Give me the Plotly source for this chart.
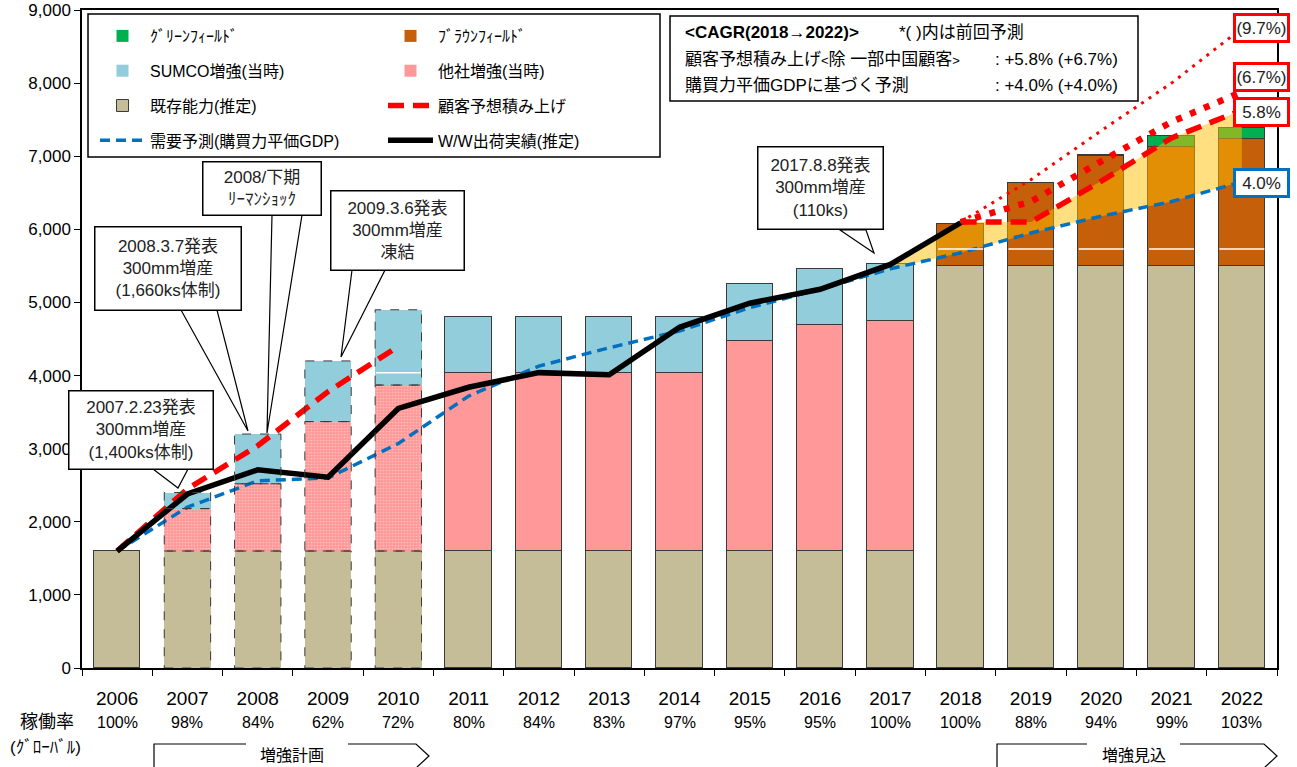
import plotly.graph_objects as go

# ---------------- data ----------------
years = [2006, 2007, 2008, 2009, 2010, 2011, 2012, 2013, 2014, 2015, 2016, 2017, 2018, 2019, 2020, 2021, 2022]
year_labels = ["2006", "2007", "2008", "2009", "2010", "2011", "2012", "2013", "2014", "2015", "2016",
               "2017", "2018", "2019", "2020", "2021", "2022"]
utilization = ["100%", "98%", "84%", "62%", "72%", "80%", "84%", "83%", "97%", "95%", "95%",
               "100%", "100%", "88%", "94%", "99%", "103%"]

existing_capacity = [1600, 1600, 1600, 1600, 1600, 1600, 1600, 1600, 1600, 1600, 1600, 1600,
                     5500, 5500, 5500, 5500, 5500]
others_increase = [0, 580, 920, 1770, 2270, 2430, 2430, 2430, 2430, 2870, 3090, 3150, 0, 0, 0, 0, 0]
sumco_increase = [0, 220, 680, 830, 1030, 770, 770, 770, 770, 780, 770, 770, 0, 0, 0, 0, 0]
brownfield = [0, 0, 0, 0, 0, 0, 0, 0, 0, 0, 0, 0, 570, 1130, 1500, 1620, 1740]
greenfield = [0, 0, 0, 0, 0, 0, 0, 0, 0, 0, 0, 0, 0, 0, 20, 150, 150]

ww_shipments = [1600, 2380, 2710, 2610, 3550, 3840, 4040, 4010, 4660, 4990, 5180, 5520, 6090,
                None, None, None, None]
customer_forecast = [1600, 2450, 3040, 3780, 4400, None, None, None, None, None, None, None,
                     6100, 6100, 6660, 7250, 7630]
gdp_forecast = [1600, 2200, 2560, 2600, 3070, 3720, 4130, 4380, 4610, 4930, 5180, 5460,
                5680, 5950, 6180, 6380, 6650]

prev_years = [2018, 2019, 2020, 2021, 2022]
prev_customer_forecast = [6100, 6380, 6930, 7470, 7880]   # (6.7%)
prev_high_forecast = [6100, 6680, 7350, 8000, 8750]       # (9.7%)

plan_years = [2007, 2008, 2009, 2010]
divider_years = [2010, 2018, 2019, 2020, 2021, 2022]
divider_values = [4040, 5730, 5730, 5730, 5730, 5730]

fill_years = [2017, 2018, 2019, 2020, 2021, 2022]

# ---------------- style ----------------
SANS = "'Liberation Sans', Arial, 'Noto Sans CJK JP', sans-serif"
C_GREEN = "#00B050"
C_BROWN = "#C65F0A"
C_SUMCO = "#92CDDC"
C_PINK = "#FF9999"
C_BEIGE = "#C4BD97"
C_RED = "#FF0000"
C_BLUE = "#0070C0"
EDGE = "#3A3A3A"
BAR_W = 0.66

W, H = 1297, 767
ML, MR, MT, MB = 82, 20, 10, 99
PW, PH = W - ML - MR, H - MT - MB


def px(x):
    return (x - ML) / PW


def py(y):
    return (H - MB - y) / PH


def edge_widths(vals):
    return [0 if (v == 0 or y in plan_years) else 1 for y, v in zip(years, vals)]


fig = go.Figure()

bar_specs = [
    ("既存能力(推定)", existing_capacity, C_BEIGE, "legend", 3),
    ("他社増強(当時)", others_increase, C_PINK, "legend2", 2),
    ("SUMCO増強(当時)", sumco_increase, C_SUMCO, "legend", 2),
    ("ﾌﾞﾗｳﾝﾌｨｰﾙﾄﾞ", brownfield, C_BROWN, "legend2", 1),
    ("ｸﾞﾘｰﾝﾌｨｰﾙﾄﾞ", greenfield, C_GREEN, "legend", 1),
]
for name, vals, col, leg, rank in bar_specs:
    marker = dict(color=col, line=dict(color=EDGE, width=edge_widths(vals)))
    if name == "他社増強(当時)":
        marker["pattern"] = dict(shape=["." if y in plan_years else "" for y in years],
                                 fillmode="overlay", fgcolor="white", fgopacity=0.35,
                                 size=3, solidity=0.25)
    fig.add_trace(go.Bar(x=years, y=vals, name=name, marker=marker, width=BAR_W,
                         legend=leg, legendgroup=name, legendrank=rank))

# shaded band between customer forecast and GDP based forecast
idx = [years.index(y) for y in fill_years]
fill_lower = [gdp_forecast[i] for i in idx]
fill_upper = [ww_shipments[idx[0]]] + [customer_forecast[i] for i in idx[1:]]
fig.add_trace(go.Scatter(x=fill_years, y=fill_lower, mode="lines", line=dict(width=0),
                         showlegend=False, hoverinfo="skip"))
fig.add_trace(go.Scatter(x=fill_years, y=fill_upper, mode="lines", line=dict(width=0),
                         fill="tonexty", fillcolor="rgba(255,192,0,0.5)",
                         showlegend=False, hoverinfo="skip"))

fig.add_trace(go.Scatter(x=years, y=gdp_forecast, mode="lines", name="需要予測(購買力平価GDP)",
                         line=dict(color=C_BLUE, width=3.5, dash="10px,6px"),
                         legend="legend", legendgroup="gdp", legendrank=4))
fig.add_trace(go.Scatter(x=prev_years, y=prev_high_forecast, mode="lines", showlegend=False,
                         line=dict(color=C_RED, width=3, dash="3px,6px")))
fig.add_trace(go.Scatter(x=prev_years, y=prev_customer_forecast, mode="lines", showlegend=False,
                         line=dict(color=C_RED, width=6.5, dash="6px,9px")))
fig.add_trace(go.Scatter(x=years, y=customer_forecast, mode="lines", name="顧客予想積み上げ",
                         connectgaps=False,
                         line=dict(color=C_RED, width=5.5, dash="16px,9px"),
                         legend="legend2", legendgroup="cust", legendrank=3))
fig.add_trace(go.Scatter(x=years, y=ww_shipments, mode="lines", name="W/W出荷実績(推定)",
                         line=dict(color="black", width=5.5),
                         legend="legend2", legendgroup="ww", legendrank=4))

shapes = []
# dashed outlines for planned (2007-2010) bars
for y in plan_years:
    i = years.index(y)
    base = 0
    for vals in (existing_capacity, others_increase, sumco_increase):
        top = base + vals[i]
        shapes.append(dict(type="rect", xref="x", yref="y", x0=y - BAR_W / 2, x1=y + BAR_W / 2,
                           y0=base, y1=top, line=dict(color=EDGE, width=1, dash="dash"),
                           fillcolor="rgba(0,0,0,0)", layer="above"))
        base = top
# white divider lines
for y, v in zip(divider_years, divider_values):
    shapes.append(dict(type="line", xref="x", yref="y", x0=y - BAR_W / 2 + 0.01, x1=y + BAR_W / 2 - 0.01,
                       y0=v, y1=v, line=dict(color="white", width=1.5), layer="above"))

# legend frame
shapes.append(dict(type="rect", xref="paper", yref="paper", x0=px(88), x1=px(660), y0=py(157), y1=py(14),
                   line=dict(color="black", width=1.5), fillcolor="white", layer="below"))
# CAGR frame
shapes.append(dict(type="rect", xref="paper", yref="paper", x0=px(670), x1=px(1138), y0=py(101), y1=py(16),
                   line=dict(color="black", width=1.5), fillcolor="white", layer="above"))


def ppath(pts, close=False):
    s = ""
    for k, (a, b) in enumerate(pts):
        s += ("M" if k == 0 else "L") + f"{px(a):.5f},{py(b):.5f} "
    return s + ("Z" if close else "")


def note(x, y, text, size, xanchor="center", **kw):
    d = dict(xref="paper", yref="paper", x=px(x), y=py(y), text=text, showarrow=False,
             xanchor=xanchor, yanchor="middle", font=dict(family=SANS, size=size, color=kw.pop("color", "black")))
    d.update(kw)
    return d


# callouts: text, center, size, tail base 1, tail base 2, tip
callouts = [
    ("2007.2.23発表<br>300mm増産<br>(1,400ks体制)", (141, 430), (145, 79), (153, 469), (188, 469), (178, 488)),
    ("2008.3.7発表<br>300mm増産<br>(1,660ks体制)", (168, 268), (147, 84), (181, 310), (217, 310), (248, 431)),
    ("2008/下期<br>ﾘｰﾏﾝｼｮｯｸ", (262, 188), (119, 54), (272, 215), (302, 215), (267, 433)),
    ("2009.3.6発表<br>300mm増産<br>凍結", (397, 230), (134, 80), (352, 270), (385, 270), (341, 357)),
    ("2017.8.8発表<br>300mm増産<br>(110ks)", (820, 188), (126, 83), (840, 230), (866, 230), (874, 253)),
]
annotations = []
for text, (cx, cy), (bw, bh), b1, b2, tip in callouts:
    shapes.append(dict(type="path", xref="paper", yref="paper", path=ppath([b1, tip, b2], close=True),
                       line=dict(color="black", width=1.2), fillcolor="white", layer="above"))
    annotations.append(note(cx, cy, text, 17, width=bw - 4, height=bh - 4, borderpad=1,
                            bgcolor="white", bordercolor="black", borderwidth=1.5, color="#222"))

# CAGR text
annotations += [
    note(683, 32, "<b>&lt;CAGR(2018→2022)&gt;</b>", 17, xanchor="left"),
    note(897, 32, "*( )内は前回予測", 17, xanchor="left"),
    note(683, 59, "顧客予想積み上げ<span style='font-size:13px'>&lt;</span>除 一部中国顧客"
                  "<span style='font-size:13px'>&gt;</span>", 17, xanchor="left"),
    note(1120, 59, ": +5.8% (+6.7%)", 17, xanchor="right"),
    note(683, 85, "購買力平価GDPに基づく予測", 17, xanchor="left"),
    note(1120, 85, ": +4.0% (+4.0%)", 17, xanchor="right"),
]

# right end labels
for text, cy, col in [("(9.7%)", 28, C_RED), ("(6.7%)", 77, C_RED), ("5.8%", 112, C_RED), ("4.0%", 183, C_BLUE)]:
    annotations.append(note(1261, cy, text, 17, width=51, height=24, borderpad=0, bgcolor="white",
                            bordercolor=col, borderwidth=3, color="#222"))

# utilization row
for y, u in zip(years, utilization):
    annotations.append(dict(xref="x", yref="paper", x=y, y=py(722), text=u, showarrow=False,
                            xanchor="center", yanchor="middle",
                            font=dict(family=SANS, size=16, color="black")))
annotations.append(note(47, 722, "稼働率", 18))
annotations.append(note(45, 747, "(ｸﾞﾛｰﾊﾞﾙ)", 17))

# plan / outlook arrows
shapes.append(dict(type="path", xref="paper", yref="paper",
                   path=ppath([(154, 785), (154, 744), (246, 744)]) + ppath([(348, 744), (416, 744), (429, 756), (416, 768), (416, 785)]),
                   line=dict(color="black", width=1.2)))
shapes.append(dict(type="path", xref="paper", yref="paper",
                   path=ppath([(997, 785), (997, 744), (1087, 744)]) + ppath([(1180, 744), (1264, 744), (1277, 756), (1264, 768), (1264, 785)]),
                   line=dict(color="black", width=1.2)))
annotations.append(note(292, 756, "増強計画", 16))
annotations.append(note(1134, 756, "増強見込", 16))

fig.update_layout(
    width=W, height=H,
    margin=dict(l=ML, r=MR, t=MT, b=MB, autoexpand=False),
    paper_bgcolor="white", plot_bgcolor="white",
    barmode="stack", bargap=0,
    font=dict(family=SANS, size=16, color="black"),
    shapes=shapes, annotations=annotations,
    legend=dict(x=px(95), y=py(19), xanchor="left", yanchor="top", bgcolor="rgba(0,0,0,0)",
                borderwidth=0, font=dict(family=SANS, size=16), traceorder="grouped",
                tracegroupgap=11, itemwidth=45),
    legend2=dict(x=px(383), y=py(19), xanchor="left", yanchor="top", bgcolor="rgba(0,0,0,0)",
                 borderwidth=0, font=dict(family=SANS, size=16), traceorder="grouped",
                 tracegroupgap=11, itemwidth=45),
    xaxis=dict(range=[2005.5, 2022.5], tickmode="array", tickvals=years, ticktext=year_labels,
               ticks="", showline=True, linecolor="black", linewidth=1.5, mirror=True,
               showgrid=False, zeroline=False, ticklabelstandoff=12, automargin=False,
               tickfont=dict(family=SANS, size=19, color="black"),
               minor=dict(tickmode="array", tickvals=[y - 0.5 for y in years] + [2022.5],
                          ticks="outside", ticklen=6, tickcolor="black", tickwidth=1)),
    yaxis=dict(range=[0, 9000], dtick=1000, tickformat=",", ticks="outside", ticklen=6,
               tickcolor="black", showline=True, linecolor="black", linewidth=1.5, mirror=True,
               showgrid=False, zeroline=False, automargin=False, ticklabeloverflow="allow",
               tickfont=dict(family=SANS, size=17, color="black")),
)

fig.write_html("out.html")
